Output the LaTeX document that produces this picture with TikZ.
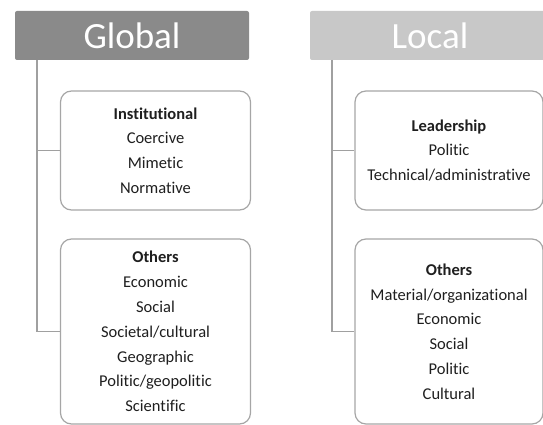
\documentclass[tikz,border=0pt]{standalone}
\usepackage{fontspec}
\setmainfont[Ligatures=NoCommon,RawFeature=-liga]{Carlito}
\begin{document}
\begin{tikzpicture}[x=1pt,y=-1pt,
  hdr/.style={rectangle,rounded corners=2pt,minimum height=49pt,text=white,font=\fontsize{37}{40}\selectfont,inner sep=0pt},
  item/.style={draw=boxgray,line width=1.2pt,rounded corners=11pt,fill=white,align=center,
    font=\fontsize{16.5}{24.8}\selectfont,text=black!88,inner sep=0pt},
  conn/.style={draw=linegray,line width=1.4pt}]
\definecolor{boxgray}{HTML}{A6A6A6}
\definecolor{linegray}{HTML}{A0A0A0}
\definecolor{globalgray}{HTML}{8A8A8A}
\definecolor{localgray}{HTML}{C8C8C8}
\useasboundingbox (0,0) rectangle (543,425);
% headers
\node[hdr,fill=globalgray,minimum width=234pt] (global) at (132,35.5) {Global};
\node[hdr,fill=localgray,minimum width=240pt] (local) at (430,35.5) {Local};
% global boxes
\node[item,minimum width=190pt,minimum height=119pt] (inst) at (155.5,150.5)
  {\textbf{Institutional}\\Coercive\\Mimetic\\Normative};
\node[item,minimum width=190pt,minimum height=185pt] (goth) at (155.5,331.5)
  {\textbf{Others}\\Economic\\Social\\Societal/cultural\\Geographic\\Politic/geopolitic\\Scientific};
% local boxes
\node[item,minimum width=188pt,minimum height=119pt] (lead) at (449,150.5)
  {\textbf{Leadership}\\Politic\\Technical/administrative};
\node[item,minimum width=188pt,minimum height=185pt] (loth) at (449,331.5)
  {\textbf{Others}\\Material/organizational\\Economic\\Social\\Politic\\Cultural};
% connectors
\coordinate (gtop) at (37,60);
\coordinate (ltop) at (332,60);
\draw[conn] (gtop) |- (goth.west);
\draw[conn] (gtop |- inst.west) -- (inst.west);
\draw[conn] (ltop) |- (loth.west);
\draw[conn] (ltop |- lead.west) -- (lead.west);
\end{tikzpicture}
\end{document}
